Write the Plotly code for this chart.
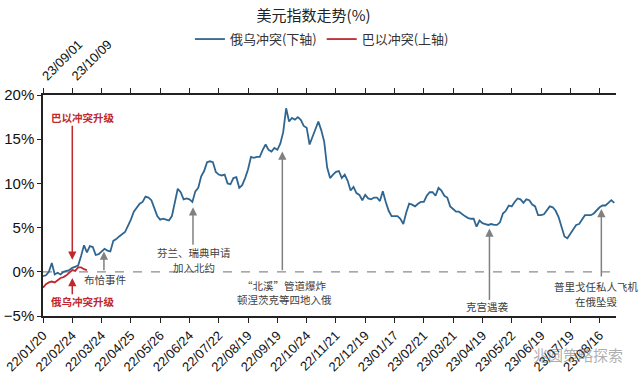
import plotly.graph_objects as go

# ---------------- data ----------------
bottom_ticks = ['22/01/20', '22/02/24', '22/03/24', '22/04/25', '22/05/26', '22/06/24',
                '22/07/22', '22/08/19', '22/09/19', '22/10/24', '22/11/21', '22/12/19',
                '23/01/17', '23/02/21', '23/03/21', '23/04/19', '23/05/22', '23/06/19',
                '23/07/19', '23/08/16']
top_ticks = ['23/09/01', '23/10/09']
tick_step = 10  # sampled points between ticks

russia_ukraine = [
    -0.5, -0.4, 0.0, 1.0, -0.3, -0.1, -0.3, 0.0, 0.1, 0.2,
    0.45, 0.6, 0.7, 1.8, 3.0, 2.2, 2.9, 2.8, 1.9, 2.0,
    2.3, 2.6, 2.4, 2.3, 3.5, 3.7, 4.0, 4.3, 4.5, 5.2,
    5.9, 6.8, 7.2, 7.7, 7.9, 8.5, 8.4, 8.1, 7.2, 6.3,
    5.9, 6.0, 5.9, 5.8, 6.3, 7.8, 9.4, 9.0, 8.2, 8.3,
    8.2, 7.9, 9.1, 9.5, 10.8, 11.4, 12.4, 12.5, 12.4, 11.3,
    11.0, 10.9, 11.0, 10.0, 9.9, 10.6, 10.7, 9.5, 9.8, 10.6,
    11.6, 13.0, 12.9, 13.0, 13.0, 13.8, 14.4, 13.8, 13.6, 14.0,
    13.8, 14.5, 15.8, 18.5, 17.0, 17.4, 17.2, 17.5, 17.2, 16.5,
    16.3, 14.4, 15.3, 16.0, 17.0, 16.0, 14.7, 11.8, 10.6, 11.0,
    11.3, 11.4, 10.6, 11.0, 10.3, 9.2, 9.6, 8.9, 8.7, 8.1,
    8.7, 8.3, 8.2, 8.4, 8.4, 8.0, 9.1, 7.9, 6.9, 6.3,
    6.3, 6.3, 6.0, 5.4, 6.7, 7.7, 7.6, 7.4, 7.7, 7.9,
    7.9, 8.6, 9.0, 9.0, 8.6, 9.5, 9.2, 8.6, 8.4, 7.4,
    7.1, 6.8, 6.8, 6.5, 6.3, 6.1, 6.0, 6.0, 5.1, 5.8,
    5.5, 5.4, 5.3, 5.4, 5.3, 5.3, 5.6, 6.6, 6.9, 7.5,
    7.4, 7.9, 8.3, 8.2, 7.8, 8.2, 8.1, 7.6, 7.4, 6.4,
    6.4, 6.5, 6.9, 7.4, 7.3, 6.9, 6.2, 5.2, 4.0, 3.8,
    4.3, 4.8, 5.3, 5.4, 5.9, 6.4, 6.4, 6.4, 6.6, 7.0,
    7.3, 7.5, 7.5, 7.8, 8.1, 7.8,
]
israel_palestine = [-1.8, -1.4, -1.2, -1.1, -1.2, -0.9, -0.7, -0.6, -0.4, -0.1,
                    0.2, 0.1, 0.5, 0.5, 0.3, 0.2]

events = [
    # (text lines, arrow x index, arrow head %, arrow tail %, text x index, text y % per line, color, bold)
    (['巴以冲突升级'], 10, 1.35, 16.7, 13.7, [17.4], '#c0282d', True),
    (['俄乌冲突升级'], 10, -0.7, -2.7, 13.7, [-3.4], '#c0282d', True),
    (['布恰事件'], 20.8, 2.3, 0.0, 21.2, [-0.9], '#808080', False),
    (['芬兰、瑞典申请', '加入北约'], 51.2, 7.3, 2.9, 51.5, [2.2, 0.45], '#808080', False),
    (['“北溪”管道爆炸', '顿涅茨克等四地入俄'], 81.7, 13.6, 0.0, 82.3, [-1.5, -3.1], '#808080', False),
    (['克宫遇袭'], 152.4, 4.9, -3.35, 151.9, [-3.9], '#808080', False),
    (['普里戈任私人飞机', '在俄坠毁'], 190.6, 7.1, -0.7, 189.0, [-1.65, -3.35], '#808080', False),
]

# ---------------- figure ----------------
BLUE = '#2f6691'
RED = '#c0282d'
xr = [0, 195.6]
tickvals = [i * tick_step for i in range(len(bottom_ticks))]

fig = go.Figure()
fig.add_trace(go.Scatter(x=list(range(len(russia_ukraine))), y=russia_ukraine,
                         mode='lines', name='俄乌冲突(下轴)',
                         line=dict(color=BLUE, width=1.8), xaxis='x', yaxis='y'))
fig.add_trace(go.Scatter(x=list(range(len(israel_palestine))), y=israel_palestine,
                         mode='lines', name='巴以冲突(上轴)',
                         line=dict(color=RED, width=1.8), xaxis='x2', yaxis='y'))

fig.add_shape(type='line', xref='paper', yref='y', x0=0, x1=1, y0=0, y1=0,
              line=dict(color='#8c8c8c', width=1.2, dash='dash'), layer='below')

annotations = []
for lines, ax_i, head, tail, tx, tys, col, bold in events:
    annotations.append(dict(x=ax_i, y=head, ax=ax_i, ay=tail, xref='x', yref='y',
                            axref='x', ayref='y', text='', showarrow=True,
                            arrowhead=2, arrowsize=1.1, arrowwidth=1.5, arrowcolor=col))
    for line, ty in zip(lines, tys):
        annotations.append(dict(x=tx, y=ty, xref='x', yref='y', showarrow=False,
                                text=f'<b>{line}</b>' if bold else line,
                                font=dict(family='Noto Sans CJK SC', size=10.5,
                                          color=col if bold else '#404040'),
                                xanchor='center', yanchor='middle'))
annotations.append(dict(x=0.934, y=-0.176, xref='paper', yref='paper',
                        text='兆圆策略探索', showarrow=False,
                        xanchor='center', yanchor='middle',
                        font=dict(family='Noto Sans CJK SC', size=15,
                                  color='rgba(120,120,120,0.6)')))

fig.update_layout(
    width=640, height=376, autosize=False,
    margin=dict(l=43, r=24, t=95, b=60, autoexpand=False),
    paper_bgcolor='white', plot_bgcolor='white',
    title=dict(text='美元指数走势(%)', x=0.49, xref='container', y=0.959,
               yref='container', xanchor='center', yanchor='middle',
               font=dict(family='Noto Sans CJK SC', size=15, color='#222')),
    legend=dict(orientation='h', x=0.503, xref='container', y=0.896, yref='container',
                xanchor='center', yanchor='middle',
                font=dict(family='Noto Sans CJK SC', size=13, color='#333'),
                itemwidth=30, tracegroupgap=0),
    showlegend=True,
    xaxis=dict(range=xr, tickvals=tickvals, ticktext=bottom_ticks, tickangle=-45,
               automargin=False,
               showgrid=False, zeroline=False, showline=True, linecolor='#222',
               linewidth=1.5, ticks='outside', ticklen=5, tickcolor='#222',
               tickfont=dict(family='Liberation Sans', size=13, color='#111')),
    xaxis2=dict(range=xr, overlaying='x', side='top', tickvals=tickvals,
                automargin=False,
                ticktext=top_ticks + [''] * (len(tickvals) - len(top_ticks)),
                tickangle=-45, showgrid=False, zeroline=False, showline=True,
                linecolor='#222', linewidth=1.5, ticks='outside', ticklen=5,
                tickcolor='#222',
                tickfont=dict(family='Liberation Sans', size=13, color='#111')),
    yaxis=dict(range=[-5, 20], dtick=5, ticksuffix='%', showgrid=False, zeroline=False,
               automargin=False,
               showline=True, linecolor='#222', linewidth=1.5, ticks='outside',
               ticklen=4, tickcolor='#222',
               tickfont=dict(family='Liberation Sans', size=15, color='#111')),
    annotations=annotations,
)

fig.write_html('out.html', config={'displayModeBar': False},
               post_script="document.body.style.margin='0';document.body.style.overflow='hidden';")
